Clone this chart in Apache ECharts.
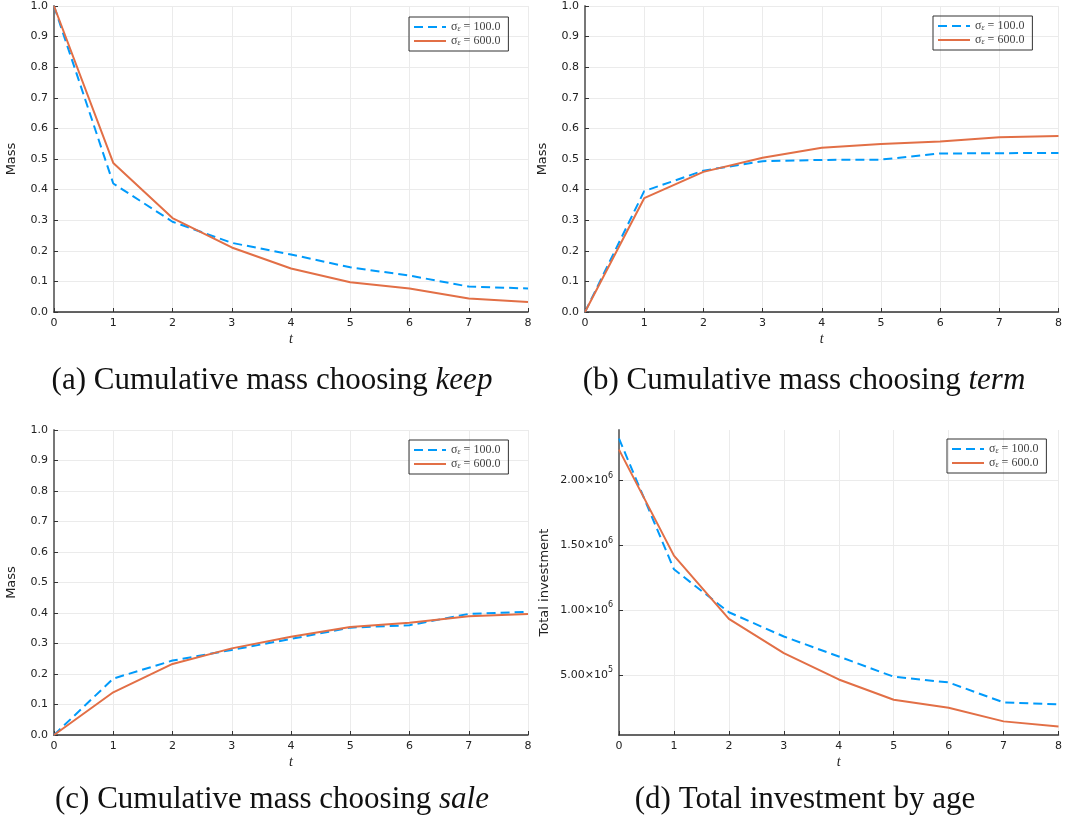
<!DOCTYPE html>
<html>
<head>
<meta charset="utf-8">
<script src="https://cdn.jsdelivr.net/npm/echarts@6/dist/echarts.min.js"></script>
<style>
  html, body { margin: 0; padding: 0; background: #fff; }
  #chart { width: 1065px; height: 826px; }
</style>
</head>
<body>
<div id="chart"></div>
<script>
// 数据：t = 0..8，两条曲线 sigma_eps = 100 / 600
const tVals = [0, 1, 2, 3, 4, 5, 6, 7, 8];
const seriesNames = ['100.0', '600.0'];

const keepLow = [1.0, 0.42, 0.295, 0.226, 0.188, 0.146, 0.119, 0.083, 0.077];
const keepHigh = [1.0, 0.487, 0.307, 0.211, 0.142, 0.097, 0.077, 0.044, 0.033];
const termLow = [0, 0.395, 0.462, 0.493, 0.497, 0.498, 0.518, 0.519, 0.52];
const termHigh = [0, 0.372, 0.458, 0.504, 0.537, 0.549, 0.557, 0.571, 0.575];
const saleLow = [0, 0.185, 0.244, 0.279, 0.315, 0.352, 0.36, 0.397, 0.404];
const saleHigh = [0, 0.14, 0.233, 0.284, 0.322, 0.354, 0.368, 0.389, 0.397];
const invLow = [2320000, 1313000, 982000, 795000, 641000, 485000, 441000, 287000, 272000];
const invHigh = [2235000, 1418000, 931000, 667000, 464000, 308000, 246000, 141000, 102000];

const invTicks = [500000, 1000000, 1500000, 2000000];
const captions = [
  ['(a) Cumulative mass choosing ', 'keep'],
  ['(b) Cumulative mass choosing ', 'term'],
  ['(c) Cumulative mass choosing ', 'sale'],
  ['(d) Total investment by age', '']
];

const BLUE = '#009afa';
const ORANGE = '#e26f46';
const SANS = 'DejaVu Sans';
const SERIF = 'Liberation Serif';

const chart = echarts.init(document.getElementById('chart'));

const grids = [
  {left: 54, top: 6, width: 474, height: 306},
  {left: 585, top: 6, width: 475, height: 306},
  {left: 54, top: 430, width: 474, height: 305},
  {left: 619, top: 430, width: 441, height: 305}
];

function pairs(vals) {
  return tVals.map((t, i) => [t, vals[i]]);
}

function xAxisFor(i) {
  return {
    type: 'value', gridIndex: i, min: 0, max: 8, interval: 1,
    name: 't', nameLocation: 'middle', nameGap: 20,
    nameTextStyle: {fontFamily: SERIF, fontStyle: 'italic', fontSize: 14, color: '#222'},
    axisLine: {lineStyle: {color: '#333', width: 1.5}},
    axisTick: {inside: true, length: 4, lineStyle: {color: '#333'}},
    axisLabel: {fontFamily: SANS, fontSize: 11, color: '#222', margin: 6},
    splitLine: {show: true, lineStyle: {color: '#ebebeb', width: 1}}
  };
}

function massAxis(i) {
  return {
    type: 'value', gridIndex: i, min: 0, max: 1, interval: 0.1,
    name: 'Mass', nameLocation: 'middle', nameGap: 36,
    nameTextStyle: {fontFamily: SANS, fontSize: 13, color: '#222'},
    axisLine: {show: true, lineStyle: {color: '#777', width: 2}},
    axisTick: {show: true, inside: true, length: 4, lineStyle: {color: '#333'}},
    axisLabel: {fontFamily: SANS, fontSize: 11, color: '#222', margin: 6,
      formatter: v => v.toFixed(1)},
    splitLine: {show: true, lineStyle: {color: '#ebebeb', width: 1}}
  };
}

const invAxis = {
  type: 'value', gridIndex: 3, min: 36000, max: 2386000,
  name: 'Total investment', nameLocation: 'middle', nameGap: 68,
  nameTextStyle: {fontFamily: SANS, fontSize: 13, color: '#222'},
  axisLine: {show: true, lineStyle: {color: '#777', width: 2}},
  axisTick: {show: true, inside: true, length: 4, customValues: invTicks, lineStyle: {color: '#333'}},
  axisLabel: {
    customValues: invTicks, fontFamily: SANS, fontSize: 11, color: '#222', margin: 6,
    formatter: v => {
      const e = Math.floor(Math.log10(v) + 1e-9);
      const m = (v / Math.pow(10, e)).toFixed(2);
      return '{m|' + m + '×10}{e|' + e + '}';
    },
    rich: {
      m: {fontFamily: SANS, fontSize: 11, color: '#222'},
      e: {fontFamily: SANS, fontSize: 8, color: '#222', padding: [0, 0, 9, 0]}
    }
  },
  splitLine: {show: true, customValues: invTicks, lineStyle: {color: '#ebebeb', width: 1}}
};

function lineSeries(name, idx, vals, dashed) {
  return {
    name: name, type: 'line', xAxisIndex: idx, yAxisIndex: idx,
    data: pairs(vals), symbol: 'none', symbolSize: 0, silent: true,
    lineStyle: {color: dashed ? BLUE : ORANGE, width: 2, type: dashed ? [9, 5] : 'solid'},
    itemStyle: {color: dashed ? BLUE : ORANGE}
  };
}

const legendPos = [
  {left: 409, top: 17},
  {left: 933, top: 16},
  {left: 409, top: 440},
  {left: 947, top: 439}
];

const legends = legendPos.map(p => ({
  left: p.left, top: p.top, orient: 'vertical',
  data: seriesNames, selectedMode: false,
  borderColor: '#333', borderWidth: 1, padding: [4, 8, 4, 4], itemGap: 2,
  itemWidth: 32, itemHeight: 11,
  itemStyle: {opacity: 0},
  formatter: name => 'σ{sub|ε} = ' + name,
  textStyle: {
    fontFamily: SERIF, fontSize: 12, color: '#444',
    rich: {sub: {fontFamily: SERIF, fontStyle: 'italic', fontSize: 8, color: '#444', padding: [4, 0, 0, 0]}}
  }
}));

const capPos = [[272, 381], [804, 381], [272, 800], [805, 800]];
const graphics = captions.map((c, i) => ({
  type: 'text', x: capPos[i][0], y: capPos[i][1],
  style: {
    text: c[0] + (c[1] ? '{i|' + c[1] + '}' : ''),
    fontFamily: SERIF, fontSize: 31, fill: '#111',
    textAlign: 'center', textVerticalAlign: 'middle',
    rich: {i: {fontFamily: SERIF, fontStyle: 'italic', fontSize: 31, color: '#111'}}
  }
}));

const option = {
  animation: false,
  grid: grids,
  xAxis: [0, 1, 2, 3].map(xAxisFor),
  yAxis: [massAxis(0), massAxis(1), massAxis(2), invAxis],
  legend: legends,
  graphic: graphics,
  series: [
    lineSeries(seriesNames[0], 0, keepLow, true),
    lineSeries(seriesNames[1], 0, keepHigh, false),
    lineSeries(seriesNames[0], 1, termLow, true),
    lineSeries(seriesNames[1], 1, termHigh, false),
    lineSeries(seriesNames[0], 2, saleLow, true),
    lineSeries(seriesNames[1], 2, saleHigh, false),
    lineSeries(seriesNames[0], 3, invLow, true),
    lineSeries(seriesNames[1], 3, invHigh, false)
  ]
};

chart.setOption(option);
</script>
</body>
</html>
